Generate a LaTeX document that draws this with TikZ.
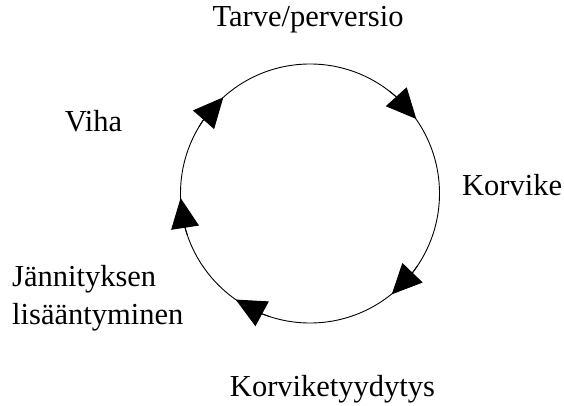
\documentclass[tikz,border=0pt]{standalone}
\usepackage{fontspec}
\setmainfont{Liberation Serif}
\usetikzlibrary{arrows.meta,bending,positioning}

\begin{document}
\begin{tikzpicture}[x=1pt, y=1pt,
    lbl/.style = {inner sep=0pt, font=\fontsize{30.5}{37.5}\selectfont},
    cyclearrow/.style = {line width=0.9pt, -{Triangle[length=30pt, width=28pt]}}]
    \useasboundingbox (0,0) rectangle (564,405);
    % the cycle
    \node [circle, draw, line width=0.9pt, inner sep=0pt, outer sep=0pt,
           minimum size=259pt] (cyc) at (310,211.5) {};
    \foreach \a in {132, 35.5, 182, 309.5, 235}
        \draw [cyclearrow] (cyc.\a+17) arc [start angle=\a+17, end angle=\a, radius=129.5];
    % labels
    \node [lbl, anchor=base] (need) at (308,378) {Tarve/perversio};
    \node [lbl, anchor=base west] (subst) at (462,210) {Korvike};
    \node [lbl, anchor=base] (satis) at (332.5,9) {Korviketyydytys};
    \node [lbl, anchor=base west, align=left] (tens) at (12,81) {Jännityksen\\lisääntyminen};
    \node [lbl, anchor=base] (anger) at (93.5,273.5) {Viha};
\end{tikzpicture}
\end{document}
